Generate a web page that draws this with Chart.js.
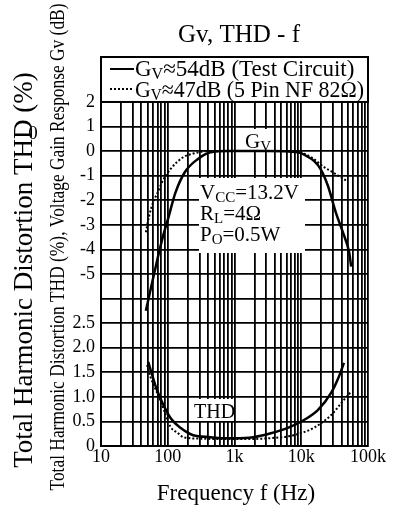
<!DOCTYPE html>
<html>
<head>
<meta charset="utf-8">
<script src="https://cdn.jsdelivr.net/npm/chart.js@4.4.1/dist/chart.umd.min.js"></script>
<style>
  html, body { margin: 0; padding: 0; background: #fff; }
  canvas { display: block; }
</style>
</head>
<body>
<canvas id="gv_thd_chart" width="406" height="510"></canvas>
<script>
// Gv, THD - f
var gvFreq54 = [47, 55, 70, 85, 100, 130, 180, 280, 440, 800, 3000, 9000, 12000, 15500, 19500, 25000, 33000, 42000, 52000, 56000]
var gvDb54 = [-6.5, -5.66, -4.4, -3.46, -2.8, -1.7, -0.86, -0.33, -0.05, 0, 0, -0.05, -0.2, -0.4, -0.73, -1.4, -2.5, -3.3, -4.1, -4.7]

var gvFreq47 = [47, 52, 60, 70, 82, 110, 170, 240, 400, 9000, 11000, 15000, 22000, 28000, 33000, 40000, 47000]
var gvDb47 = [-3.3, -2.7, -2.1, -1.71, -1.27, -0.73, -0.25, -0.1, 0, 0, -0.1, -0.3, -0.65, -0.82, -0.94, -1.08, -1.2]

var thdFreq54 = [51, 58, 65, 77, 83, 110, 155, 240, 440, 620, 1000, 1900, 3500, 6300, 11000, 17700, 28000, 36600, 43600]
var thd54 = [1.71, 1.46, 1.24, 0.98, 0.88, 0.57, 0.37, 0.22, 0.18, 0.16, 0.16, 0.18, 0.26, 0.37, 0.53, 0.73, 1.08, 1.41, 1.69]

var thdFreq47 = [49, 55, 65, 77, 90, 110, 140, 170, 300, 1000, 3500, 7700, 15400, 28000, 43600, 55500]
var thd47 = [1.65, 1.41, 1.17, 0.94, 0.69, 0.39, 0.27, 0.18, 0.15, 0.14, 0.16, 0.22, 0.37, 0.63, 0.94, 1.1]

var seriesLabels = ['G_{V}≈54dB (Test Circuit)', 'G_{V}≈47dB (5 Pin NF 82Ω)']
var conditions = ['V_{CC}=13.2V', 'R_{L}=4Ω', 'P_{O}=0.5W']

var freqMajor = [10, 100, 1000, 10000, 100000]
var freqMajorLabels = ['10', '100', '1k', '10k', '100k']
var gvTicks = [2, 1, 0, -1, -2, -3, -4, -5]
var thdTicks = [0, 0.5, 1.0, 1.5, 2.0, 2.5]

// one grid unit = 1 dB = 0.5 % THD; THD 0 sits at -12 dB
var dbMin = -12, dbTop = 2, dbMax = 3.83

var freqGrid = []
;[10, 100, 1000, 10000].forEach(function (d) {
  for (var k = 1; k <= 9; k++) freqGrid.push(k * d)
})
freqGrid.push(100000)
var dbGrid = []
for (var v = dbMin; v <= dbTop; v++) dbGrid.push(v)

var serif = '"Liberation Serif", "Times New Roman", serif'

function pts(xs, ys) {
  return xs.map(function (x, i) { return { x: x, y: ys[i] } })
}

// draws 'G_{V}...' with the braces part as a subscript, squeezed to maxW if given
function drawRich(ctx, str, x, y, size, maxW) {
  var parts = str.split(/_\{([^}]*)\}/)
  ctx.textAlign = 'left'
  ctx.textBaseline = 'alphabetic'
  var w = 0
  parts.forEach(function (p, i) {
    ctx.font = (i % 2 ? Math.round(size * 0.7) : size) + 'px ' + serif
    w += ctx.measureText(p).width
  })
  var k = maxW && w > maxW ? maxW / w : 1
  ctx.save()
  ctx.translate(x, y)
  ctx.scale(k, 1)
  var cx = 0
  parts.forEach(function (p, i) {
    var sub = i % 2 == 1
    ctx.font = (sub ? Math.round(size * 0.7) : size) + 'px ' + serif
    ctx.fillText(p, cx, sub ? size * 0.15 : 0)
    cx += ctx.measureText(p).width
  })
  ctx.restore()
}

function whiteBox(ctx, x, y, w, h) {
  ctx.fillStyle = '#fff'
  ctx.fillRect(x, y, w, h)
  ctx.fillStyle = '#000'
}

var labelsPlugin = {
  id: 'labels',
  beforeDatasetsDraw: function (chart) {
    var ctx = chart.ctx
    ctx.save()
    // Gv tag
    whiteBox(ctx, 242, 129, 31, 22)
    drawRich(ctx, 'G_{V}', 245, 148, 21)
    // THD tag
    whiteBox(ctx, 192, 399, 42, 22)
    drawRich(ctx, 'THD', 194, 418, 20)
    // conditions
    whiteBox(ctx, 199, 178, 106, 75)
    conditions.forEach(function (c, i) {
      drawRich(ctx, c, 200, 199 + i * 21, 21)
    })
    ctx.restore()
  },
  afterDraw: function (chart) {
    var ctx = chart.ctx
    var a = chart.chartArea
    var yb = chart.scales.y.getPixelForValue(dbTop)
    ctx.save()
    // legend box on top of the grid
    ctx.fillStyle = '#fff'
    ctx.fillRect(a.left, a.top, a.right - a.left, yb - a.top)
    ctx.strokeStyle = '#000'
    ctx.lineWidth = 2
    ctx.strokeRect(a.left, a.top, a.right - a.left, yb - a.top)
    ctx.fillStyle = '#000'
    ctx.beginPath()
    ctx.moveTo(110, 69); ctx.lineTo(134, 69)
    ctx.stroke()
    ctx.setLineDash([2, 2])
    ctx.beginPath()
    ctx.moveTo(110, 89); ctx.lineTo(134, 89)
    ctx.stroke()
    ctx.setLineDash([])
    drawRich(ctx, seriesLabels[0], 135, 76, 23, 228)
    drawRich(ctx, seriesLabels[1], 135, 97, 23, 229)

    // chart title
    ctx.font = '25px ' + serif
    ctx.textAlign = 'center'
    ctx.fillText('Gv, THD - f', 239, 42)

    // x title
    ctx.font = '23px ' + serif
    ctx.fillText('Frequency f (Hz)', 236, 500)

    // y titles
    ctx.save()
    ctx.translate(32, 270)
    ctx.rotate(-Math.PI / 2)
    ctx.font = '27px ' + serif
    ctx.fillText('Total Harmonic Distortion THD (%)', 0, 0)
    ctx.restore()

    ctx.save()
    ctx.translate(64, 247)
    ctx.rotate(-Math.PI / 2)
    ctx.scale(0.79, 1)
    ctx.font = '22px ' + serif
    ctx.fillText('Total Harmonic Distortion THD (%), Voltage Gain Response Gv (dB)', 0, 0)
    ctx.restore()

    ctx.font = '19px ' + serif
    ctx.fillText('0', 33, 139)
    ctx.restore()
  }
}

var ctx = document.getElementById('gv_thd_chart').getContext('2d')
var chart = new Chart(ctx, {
  type: 'line',
  data: {
    datasets: [
      { label: seriesLabels[0], data: pts(gvFreq54, gvDb54), yAxisID: 'y', borderColor: '#000', borderWidth: 2.5 },
      { label: seriesLabels[1], data: pts(gvFreq47, gvDb47), yAxisID: 'y', borderColor: '#000', borderWidth: 2, borderDash: [2, 2] },
      { label: 'THD 54dB', data: pts(thdFreq54, thd54), yAxisID: 'yT', borderColor: '#000', borderWidth: 2.5 },
      { label: 'THD 47dB', data: pts(thdFreq47, thd47), yAxisID: 'yT', borderColor: '#000', borderWidth: 2, borderDash: [2, 2] }
    ]
  },
  options: {
    responsive: false,
    animation: false,
    devicePixelRatio: 1,
    layout: { padding: { left: 71, right: 38, top: 57, bottom: 0 } },
    elements: {
      point: { radius: 0 },
      line: { cubicInterpolationMode: 'monotone', fill: false }
    },
    plugins: { legend: { display: false }, tooltip: { enabled: false } },
    scales: {
      x: {
        type: 'logarithmic',
        min: 10,
        max: 100000,
        afterBuildTicks: function (s) { s.ticks = freqGrid.map(function (v) { return { value: v } }) },
        afterFit: function (s) { s.height = 64 },
        ticks: {
          autoSkip: false,
          maxRotation: 0,
          padding: 0,
          color: '#000',
          font: { family: serif, size: 18 },
          callback: function (v) {
            var i = freqMajor.indexOf(v)
            return i < 0 ? '' : freqMajorLabels[i]
          }
        },
        grid: { color: '#000', lineWidth: 1.8, drawTicks: false },
        border: { color: '#000', width: 2 }
      },
      y: {
        type: 'linear',
        min: dbMin,
        max: dbMax,
        afterBuildTicks: function (s) { s.ticks = dbGrid.map(function (v) { return { value: v } }) },
        afterFit: function (s) { s.width = 30 },
        ticks: {
          padding: 6,
          color: '#000',
          font: { family: serif, size: 18 },
          callback: function (v) {
            if (gvTicks.indexOf(v) >= 0) return String(v)
            var t = (v - dbMin) / 2
            if (thdTicks.indexOf(t) >= 0) return t == 0 ? '0' : t.toFixed(1)
            return ''
          }
        },
        grid: { color: '#000', lineWidth: 1.8, drawTicks: false },
        border: { color: '#000', width: 2 }
      },
      yT: {
        type: 'linear',
        display: false,
        min: 0,
        max: (dbMax - dbMin) / 2
      }
    }
  },
  plugins: [labelsPlugin]
})
</script>
</body>
</html>
